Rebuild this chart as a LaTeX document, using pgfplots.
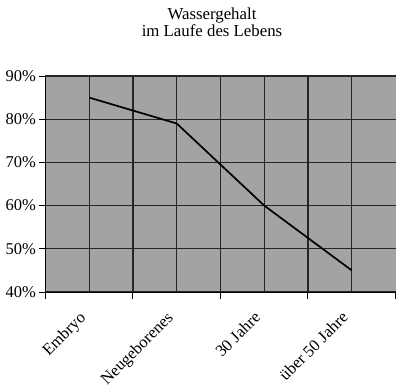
\documentclass[border=0pt]{standalone}
\usepackage{pgfplots}
\pgfplotsset{compat=1.18}
\usepackage{fontspec}
\setmainfont{Liberation Serif}
\begin{document}
\begin{tikzpicture}[font=\fontsize{16.5}{19}\selectfont]
\useasboundingbox (-45.5pt,-97pt) rectangle (354.5pt,292pt);
\begin{axis}[
  at={(0pt,0pt)}, anchor=south west,
  scale only axis, width=350pt, height=216pt,
  xmin=0, xmax=8, ymin=40, ymax=90,
  axis x line*=bottom, axis y line*=left,
  axis line style={black, line width=1pt},
  axis background/.style={fill=black!36},
  /pgf/number format/assume math mode=true,
  tick label style={font=\fontsize{16.5}{19}\selectfont},
  tick align=outside,
  major tick length=6pt, minor tick length=7pt,
  xtick={1,3,5,7},
  xticklabels={Embryo,Neugeborenes,30 Jahre,über 50 Jahre},
  major x tick style={draw=none},
  minor xtick={0,2,4,6},
  minor x tick style={black, line width=1pt},
  extra x ticks={8}, extra x tick labels={},
  extra x tick style={grid=none, major tick length=7pt, major x tick style={draw=black, line width=1pt}},
  xticklabel style={xshift=-11pt, yshift=-11pt, rotate=45, anchor=north east, inner sep=1pt},
  ytick={40,50,...,90},
  yticklabel={\pgfmathprintnumber{\tick}\%},
  y tick style={black, line width=1pt},
  grid=both,
  major grid style={black!85, line width=1.1pt},
  minor grid style={black!85, line width=1.1pt},
]
\addplot[black, line width=1.7pt, mark=none] coordinates {(1,85) (3,79) (5,60) (7,45)};
\end{axis}
\node[anchor=base, font=\fontsize{16.8}{19}\selectfont] at (166.5pt,272pt) {Wassergehalt};
\node[anchor=base, font=\fontsize{16.8}{19}\selectfont] at (166.5pt,255pt) {im Laufe des Lebens};
\end{tikzpicture}
\end{document}
